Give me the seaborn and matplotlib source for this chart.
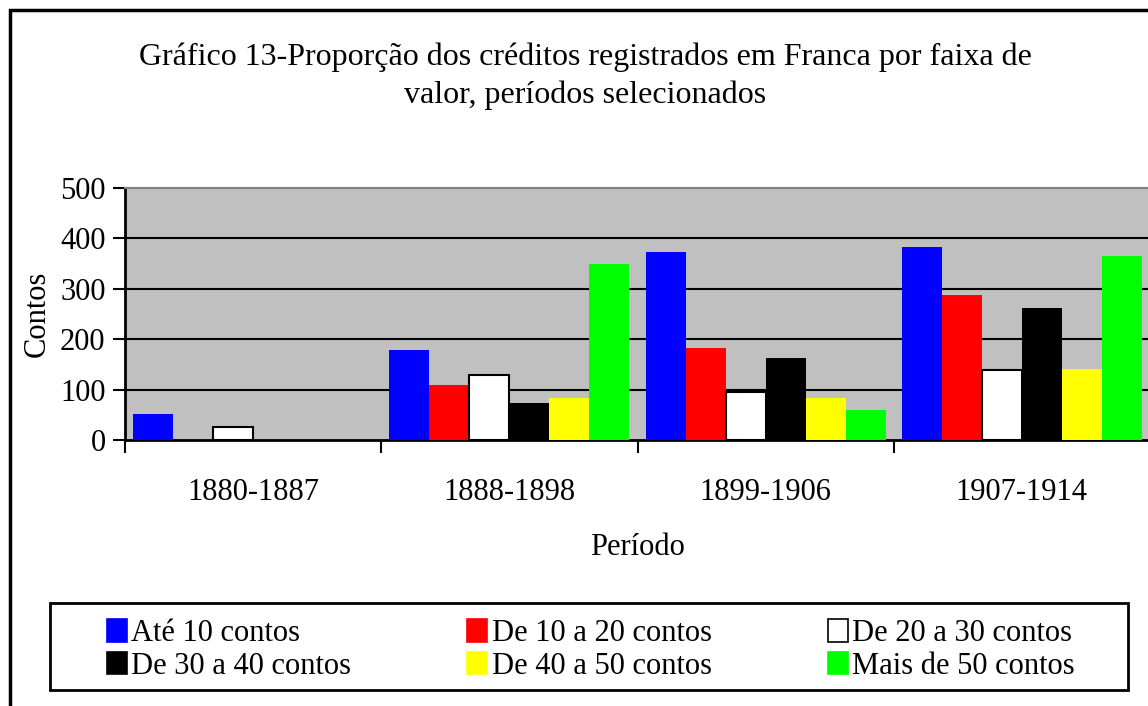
import pandas as pd
import seaborn as sns
import matplotlib.pyplot as plt
from matplotlib.patches import Patch, Rectangle

#%% dados
periodos = ["1880-1887", "1888-1898", "1899-1906", "1907-1914"]
faixas = ["Até 10 contos", "De 10 a 20 contos", "De 20 a 30 contos",
          "De 30 a 40 contos", "De 40 a 50 contos", "Mais de 50 contos"]
ate10 = [52, 179, 373, 383]
de10_20 = [0, 109, 182, 288]
de20_30 = [26, 129, 95, 139]
de30_40 = [0, 73, 163, 262]
de40_50 = [0, 84, 83, 141]
mais50 = [0, 349, 60, 365]
cores = ["#0000ff", "#ff0000", "#ffffff", "#000000", "#ffff00", "#00ff00"]

series = [ate10, de10_20, de20_30, de30_40, de40_50, mais50]
rows = []
for faixa, vals in zip(faixas, series):
    for p, v in zip(periodos, vals):
        rows.append({"Período": p, "Contos": v, "Faixa": faixa})
df = pd.DataFrame(rows)

#%% plot
sns.set_style("white")
plt.rcParams['font.family'] = ['Liberation Serif', 'DejaVu Serif']
plt.rcParams['text.color'] = 'black'
plt.rcParams['axes.labelcolor'] = 'black'
plt.rcParams['xtick.color'] = 'black'
plt.rcParams['ytick.color'] = 'black'

fig = plt.figure(figsize=(11.48, 7.06), dpi=100)
ax = fig.add_axes([125/1148, 1 - 440/706, 1025/1148, 252/706])
ax.set_facecolor("#c0c0c0")

sns.barplot(data=df, x="Período", y="Contos", hue="Faixa", palette=cores,
            hue_order=faixas, order=periodos, width=0.9375, gap=0,
            saturation=1, linewidth=0, legend=False, ax=ax, zorder=3)

# borda preta nas barras brancas
for bar in ax.containers[2]:
    bar.set_edgecolor("black")
    bar.set_linewidth(1.5)

ax.set_ylim(0, 500)
ax.set_xlim(-0.5, 3.5)
ax.set_yticks([0, 100, 200, 300, 400, 500])
for yv in [100, 200, 300, 400]:
    ax.axhline(yv, color="black", lw=1.5, zorder=1)

for s in ["left", "bottom"]:
    ax.spines[s].set_color("black")
    ax.spines[s].set_linewidth(2)
ax.spines["top"].set_color("#808080")
ax.spines["top"].set_linewidth(1.5)
ax.spines["right"].set_visible(False)

ax.tick_params(axis="y", which="major", direction="out", length=9, width=1.5,
               color="black", labelsize=22, pad=5, left=True)
ax.set_xticks([-0.5, 0.5, 1.5, 2.5, 3.5], minor=True)
ax.tick_params(axis="x", which="minor", direction="out", length=9, width=1.5,
               color="black", bottom=True)
ax.tick_params(axis="x", which="major", length=0, labelsize=22, pad=27)

ax.set_xlabel("Período", fontsize=22, labelpad=19)
ax.set_ylabel("Contos", fontsize=22, labelpad=6)

fig.text(0.51, 1 - 76/706,
         "Gráfico 13-Proporção dos créditos registrados em Franca por faixa de\nvalor, períodos selecionados",
         ha="center", va="center", fontsize=23, linespacing=1.4)

# legenda (ordem por linhas)
handles = [Patch(facecolor=c, edgecolor="black" if c == "#ffffff" else c, lw=1.2)
           for c in cores]
ordem = [0, 3, 1, 4, 2, 5]
leg = fig.legend([handles[i] for i in ordem], [faixas[i] for i in ordem],
                 loc="center", bbox_to_anchor=(591/1148, 1 - 650/706), ncol=3,
                 fontsize=22, frameon=False, handlelength=0.65,
                 handleheight=0.75, handletextpad=0.15, columnspacing=3.8,
                 borderpad=0.3, labelspacing=0.12, borderaxespad=0)
fig.patches.append(Rectangle((50/1148, 1 - 690/706), 1078/1148, 87/706,
                             transform=fig.transFigure, fill=False,
                             edgecolor="black", lw=2))

# moldura do gráfico
fig.patches.append(Rectangle((10/1148, -0.1), 1.2, 1.1 - 10/706, transform=fig.transFigure,
                             fill=False, edgecolor="black", lw=2.5))

fig.savefig("out.png", dpi=100)
